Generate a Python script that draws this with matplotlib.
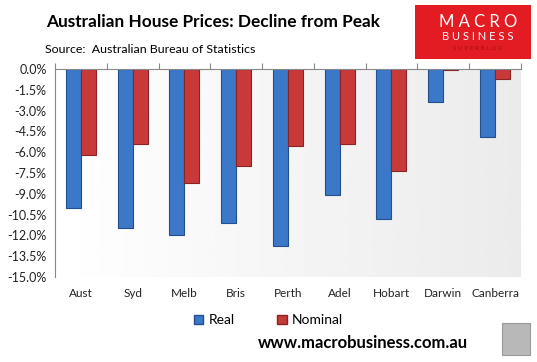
import numpy as np
import matplotlib.pyplot as plt
from matplotlib.patches import Rectangle, Patch
from matplotlib.ticker import FuncFormatter, MultipleLocator

# data (% decline from peak)
cities = ['Aust', 'Syd', 'Melb', 'Bris', 'Perth', 'Adel', 'Hobart', 'Darwin', 'Canberra']
real = [-10.0, -11.45, -12.0, -11.1, -12.75, -9.1, -10.8, -2.35, -4.9]
nominal = [-6.2, -5.4, -8.2, -7.0, -5.55, -5.4, -7.35, -0.1, -0.7]

plt.rcParams['font.family'] = ['Lato', 'DejaVu Sans']

fig = plt.figure(figsize=(5.37, 3.62), dpi=100)
ax = fig.add_axes([0.1024, 0.2348, 0.8676, 0.5746])

x = np.arange(len(cities))
w = 0.29

# background gradient (white -> light grey)
grad = np.linspace(1.0, 0.92, 256).reshape(1, -1)
ax.imshow(grad, cmap='gray', vmin=0, vmax=1, aspect='auto',
          extent=[-0.5, len(cities) - 0.5, -15, 0], zorder=0)

ax.bar(x - w / 2, real, w, color='#3b78c8', edgecolor='#23508d', linewidth=0.8, zorder=2)
ax.bar(x + w / 2, nominal, w, color='#c83a3a', edgecolor='#8a2323', linewidth=0.8, zorder=2)

ax.set_xlim(-0.5, len(cities) - 0.5)
ax.set_ylim(-15, 0)
ax.yaxis.set_major_locator(MultipleLocator(1.5))
ax.yaxis.set_major_formatter(FuncFormatter(lambda v, p: f'{v:.1f}%'))
ax.tick_params(axis='y', length=0, labelsize=9, colors='#222222', pad=6)

# category boundaries as ticks on the zero line
ax.set_xticks(np.arange(-0.5, len(cities), 1.0))
ax.set_xticklabels([])
ax.xaxis.set_ticks_position('top')
ax.tick_params(axis='x', direction='out', length=4, color='#888888')
for i, c in enumerate(cities):
    ax.text(i, -16.2, c, ha='center', va='center', fontsize=8.5, color='#222222')

for s in ['right', 'bottom']:
    ax.spines[s].set_visible(False)
ax.spines['top'].set_color('#888888')
ax.spines['left'].set_color('#888888')

fig.text(0.086, 0.94, 'Australian House Prices: Decline from Peak', fontsize=12.4,
         fontweight='bold', va='center', ha='left', color='black')
fig.text(0.083, 0.862, 'Source:  Australian Bureau of Statistics', fontsize=8.9,
         va='center', ha='left', color='black')

# legend
handles = [Patch(facecolor='#3b78c8', edgecolor='#23508d', label='Real'),
           Patch(facecolor='#c83a3a', edgecolor='#8a2323', label='Nominal')]
fig.legend(handles=handles, loc='center', bbox_to_anchor=(0.5, 0.115), ncol=2,
           frameon=False, fontsize=10, handlelength=0.7, handleheight=0.7,
           handletextpad=0.4, columnspacing=3.0)

# logo box
fig.patches.append(Rectangle((415 / 537, 1 - 59 / 362), 116 / 537, 54 / 362,
                             transform=fig.transFigure, facecolor='#e31c24', edgecolor='none'))
fig.text(478 / 537, 1 - 22 / 362, 'M A C R O', fontsize=12, color='white', ha='center', va='center')
fig.text(478 / 537, 1 - 36 / 362, 'B U S I N E S S', fontsize=8, color='white', ha='center', va='center')
fig.text(478 / 537, 1 - 48 / 362, 'S U P E R B L O G', fontsize=4.5, color='#a01010', ha='center', va='center')

fig.text(0.675, 0.052, 'www.macrobusiness.com.au', fontsize=12, fontweight='bold',
         ha='center', va='center', color='black')
fig.patches.append(Rectangle((502 / 537, 1 - 355 / 362), 28 / 537, 32 / 362, transform=fig.transFigure,
                             facecolor='#b8b8b8', edgecolor='#999999', linewidth=0.8))

fig.savefig('out.png', dpi=100)
